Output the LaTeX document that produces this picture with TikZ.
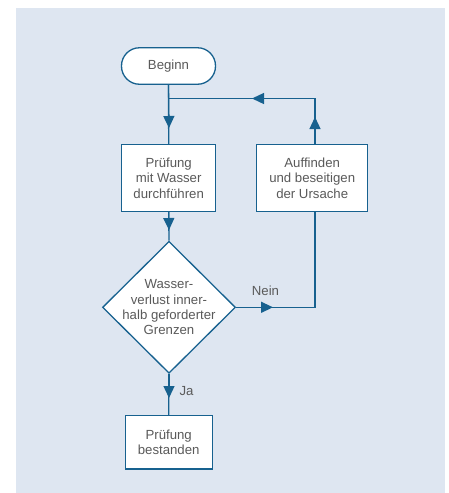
\documentclass[tikz,border=0pt]{standalone}
\usepackage{fontspec}
\setmainfont{Liberation Sans}
\usetikzlibrary{shapes.geometric,arrows.meta}
\definecolor{bgc}{HTML}{DEE6F1}
\definecolor{lnc}{HTML}{17618F}
\definecolor{txc}{HTML}{5A5A5A}
\tikzset{
  ln/.style={draw=lnc,line width=1.3pt},
  tipln/.style={draw=lnc,line width=1.3pt,-{Triangle[length=12pt,width=11pt]}},
  boxn/.style={draw=lnc,line width=1.3pt,fill=white,inner sep=0pt,align=center,text=txc,
    font=\fontsize{13.2}{15.3}\selectfont},
  lbl/.style={text=txc,inner sep=0pt,font=\fontsize{13.2}{15.3}\selectfont},
}
\begin{document}
\begin{tikzpicture}[x=1pt,y=-1pt]
\useasboundingbox (0,0) rectangle (449,493);
\fill[bgc] (16,8) rectangle (445,493);
\node[boxn,rounded corners=18pt,minimum width=94pt,minimum height=36.5pt] (beginn) at (168.5,66) {Beginn};
\node[boxn,minimum width=94pt,minimum height=66.5pt] (pruef) at (168.7,178) {Prüfung\\mit Wasser\\durchführen};
\node[boxn,minimum width=111pt,minimum height=66.5pt] (auff) at (312.2,178) {Auffinden\\und beseitigen\\der Ursache};
\node[boxn,shape=diamond,minimum width=133pt,minimum height=132pt] (dia) at (169,307.3) {};
\node[lbl,align=center] (diatext) at (dia.center) {Wasser-\\verlust inner-\\halb geforderter\\Grenzen};
\node[boxn,minimum width=87pt,minimum height=53.3pt] (best) at (168.7,442.3) {Prüfung\\bestanden};
\coordinate (j) at (169,98.5);
\coordinate (c1) at (315,98.5);
\coordinate (c2) at (315,307.3);
\coordinate (a1) at (169,128);
\coordinate (a2) at (169,230);
\coordinate (a3) at (273,307.3);
\coordinate (a4) at (315,117);
\coordinate (a5) at (252,98.5);
\coordinate (a6) at (169,398);
\draw[ln] (beginn.south) -- (pruef.north);
\draw[tipln] (beginn.south) -- (a1);
\draw[ln] (pruef.south) -- (dia.north);
\draw[tipln] (pruef.south) -- (a2);
\draw[ln] (dia.south) -- (best.north);
\draw[tipln] (dia.south) -- (a6);
\draw[ln] (dia.east) -- (c2) -- (c2 |- auff.south);
\draw[tipln] (dia.east) -- (a3);
\draw[ln] (c1 |- auff.north) -- (c1) -- (j);
\draw[tipln] (c1 |- auff.north) -- (a4);
\draw[tipln] (c1) -- (a5);
\node[lbl] (nein) at (265.5,290.5) {Nein};
\node[lbl] (ja) at (186.5,391.5) {Ja};
\end{tikzpicture}
\end{document}
